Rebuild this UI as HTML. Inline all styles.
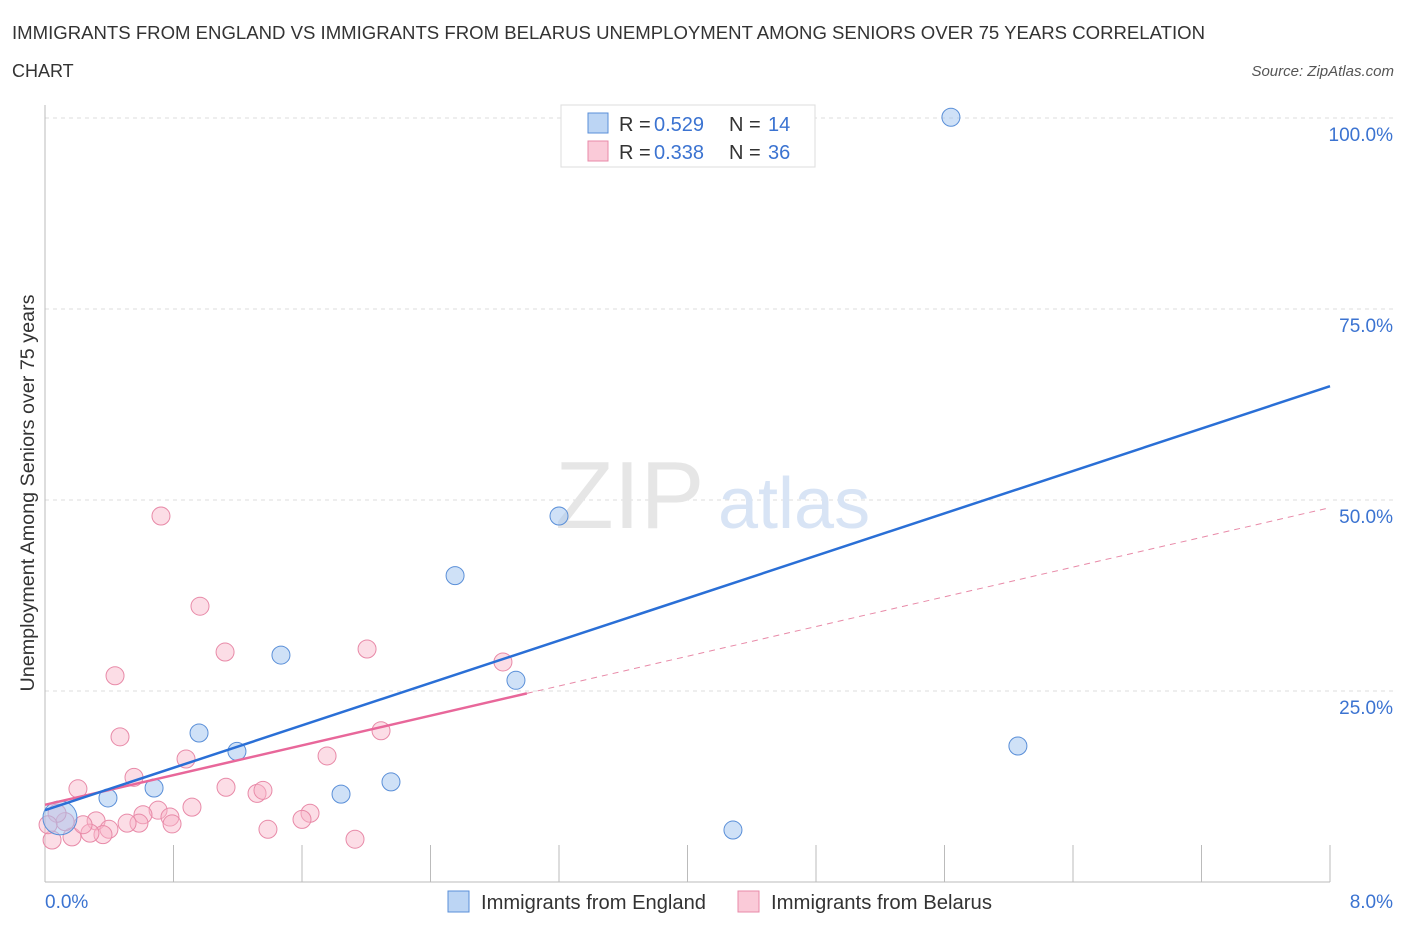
<!DOCTYPE html>
<html><head><meta charset="utf-8"><style>
body{margin:0;background:#fff;font-family:"Liberation Sans",sans-serif;}
svg text{font-family:"Liberation Sans",sans-serif;}
</style></head><body>
<svg id="c" width="1406" height="930"></svg>
<script>
const blueX=[0.093,0.392,0.679,0.959,1.195,1.469,1.843,2.154,2.553,3.2,2.932,4.283,5.64,6.057];
const blueY=[8.4,11.0,12.3,19.5,17.1,29.7,11.5,13.1,40.1,47.9,26.4,6.8,100.1,17.8];
const pinkX=[1.121,2.005,0.436,0.467,0.878,0.554,0.205,2.092,1.756,1.127,1.320,1.357,0.915,0.704,0.610,0.778,0.791,0.585,0.511,0.318,0.398,0.361,0.280,0.168,0.044,0.125,0.075,1.650,1.600,1.388,1.930,0.237,0.722,0.965,2.851,0.019];
const pinkY=[30.1,30.5,27.0,19.0,16.1,13.7,12.2,19.8,16.5,12.4,11.6,12.0,9.8,9.4,8.8,8.5,7.6,7.7,7.7,8.0,6.9,6.2,6.4,5.9,5.5,7.9,9.0,9.0,8.2,6.9,5.6,7.5,47.9,36.1,28.8,7.5];
const blueTrend=[9.4,64.9];
const pinkTrend=[10.1,49.0];
const pinkSolidEnd=3.0;
const yTicks=[25,50,75,100];
const yTickLabels=["25.0%","50.0%","75.0%","100.0%"];
const xLabels=["0.0%","8.0%"];
const NS="http://www.w3.org/2000/svg";
const svg=document.getElementById('c');
const X=v=>45+v/8*1285, Y=v=>882-v*7.64;
function el(t,a,txt){const e=document.createElementNS(NS,t);for(const k in a)e.setAttribute(k,a[k]);if(txt!==undefined)e.textContent=txt;svg.appendChild(e);return e;}
let e;
e=el('text',{x:12,y:39,'font-size':18,fill:'#333',textLength:1193,lengthAdjust:'spacingAndGlyphs'},'IMMIGRANTS FROM ENGLAND VS IMMIGRANTS FROM BELARUS UNEMPLOYMENT AMONG SENIORS OVER 75 YEARS CORRELATION');


e=el('text',{x:12,y:77,'font-size':18,fill:'#333'},'CHART');


e=el('text',{x:1394,y:76,'font-size':15,fill:'#555','font-style':'italic','text-anchor':'end'},'Source: ZipAtlas.com');


yTicks.forEach((t,i)=>{
 e=el('line',{x1:45,x2:1395,y1:Y(t),y2:Y(t),stroke:'#ddd','stroke-dasharray':'4,4'});
 
 
 e=el('text',{x:1393,y:Y(t)+23,'font-size':19,fill:'#3b73d1','text-anchor':'end'},yTickLabels[i]);
 
 
});
e=el('line',{x1:45,x2:45,y1:105,y2:882,stroke:'#bbb'});


e=el('line',{x1:45,x2:1330,y1:882,y2:882,stroke:'#bbb'});


for(let i=1;i<=10;i++){e=el('line',{x1:X(i*0.8),x2:X(i*0.8),y1:845,y2:882,stroke:'#bbb'});
 
 }
e=el('text',{x:45,y:908,'font-size':19,fill:'#3b73d1'},xLabels[0]);


e=el('text',{x:1393,y:908,'font-size':19,fill:'#3b73d1','text-anchor':'end'},xLabels[1]);


e=el('text',{x:34,y:493,'font-size':19,fill:'#333','text-anchor':'middle',transform:'rotate(-90 34 493)',textLength:397,lengthAdjust:'spacingAndGlyphs'},'Unemployment Among Seniors over 75 years');


e=el('text',{x:555,y:528,'font-size':96,fill:'#e6e6e6','font-family':'Liberation Serif'},'ZIP');


e=el('text',{x:718,y:528,'font-size':72,fill:'#d8e4f5'},'atlas');


pinkX.forEach((x,i)=>{e=el('circle',{cx:X(x),cy:Y(pinkY[i]),r:9,fill:'rgba(248,180,200,0.45)',stroke:'#e88aa8','stroke-width':1});
 
 });
blueX.forEach((x,i)=>{e=el('circle',{cx:X(x),cy:Y(blueY[i]),r:i==0?17:9,fill:'rgba(160,195,240,0.5)',stroke:'#5a8fd8','stroke-width':1});
 
 });
const pAt=x=>pinkTrend[0]+(pinkTrend[1]-pinkTrend[0])*x/8;
e=el('line',{x1:X(pinkSolidEnd),y1:Y(pAt(pinkSolidEnd)),x2:X(8),y2:Y(pinkTrend[1]),stroke:'#e88aa8','stroke-width':1,'stroke-dasharray':'6,5'});


e=el('line',{x1:X(0),y1:Y(pinkTrend[0]),x2:X(pinkSolidEnd),y2:Y(pAt(pinkSolidEnd)),stroke:'#e8679a','stroke-width':2.5});


e=el('line',{x1:X(0),y1:Y(blueTrend[0]),x2:X(8),y2:Y(blueTrend[1]),stroke:'#2a6fd6','stroke-width':2.5});


e=el('rect',{x:561,y:105,width:254,height:62,fill:'#fff',stroke:'#ddd'});


[['rgba(160,195,240,0.7)','#5a8fd8','0.529','14',123],['rgba(248,180,200,0.7)','#e88aa8','0.338','36',151]].forEach(r=>{
 e=el('rect',{x:588,y:r[4]-10,width:20,height:20,fill:r[0],stroke:r[1]});
 
 
 e=el('text',{x:619,y:r[4]+8,'font-size':20,fill:'#333'},'R =');
 
 
 e=el('text',{x:654,y:r[4]+8,'font-size':20,fill:'#3b73d1'},r[2]);
 
 
 e=el('text',{x:729,y:r[4]+8,'font-size':20,fill:'#333'},'N =');
 
 
 e=el('text',{x:768,y:r[4]+8,'font-size':20,fill:'#3b73d1'},r[3]);
 
 
});
[[448,'rgba(160,195,240,0.7)','#5a8fd8','Immigrants from England','legend-england',225],[738,'rgba(248,180,200,0.7)','#e88aa8','Immigrants from Belarus','legend-belarus',221]].forEach(l=>{
 e=el('rect',{x:l[0],y:891,width:21,height:21,fill:l[1],stroke:l[2]});
 
 
 e=el('text',{x:l[0]+33,y:909,'font-size':20,fill:'#333',textLength:l[5],lengthAdjust:'spacingAndGlyphs'},l[3]);
 
 
});
</script>
</body></html>
